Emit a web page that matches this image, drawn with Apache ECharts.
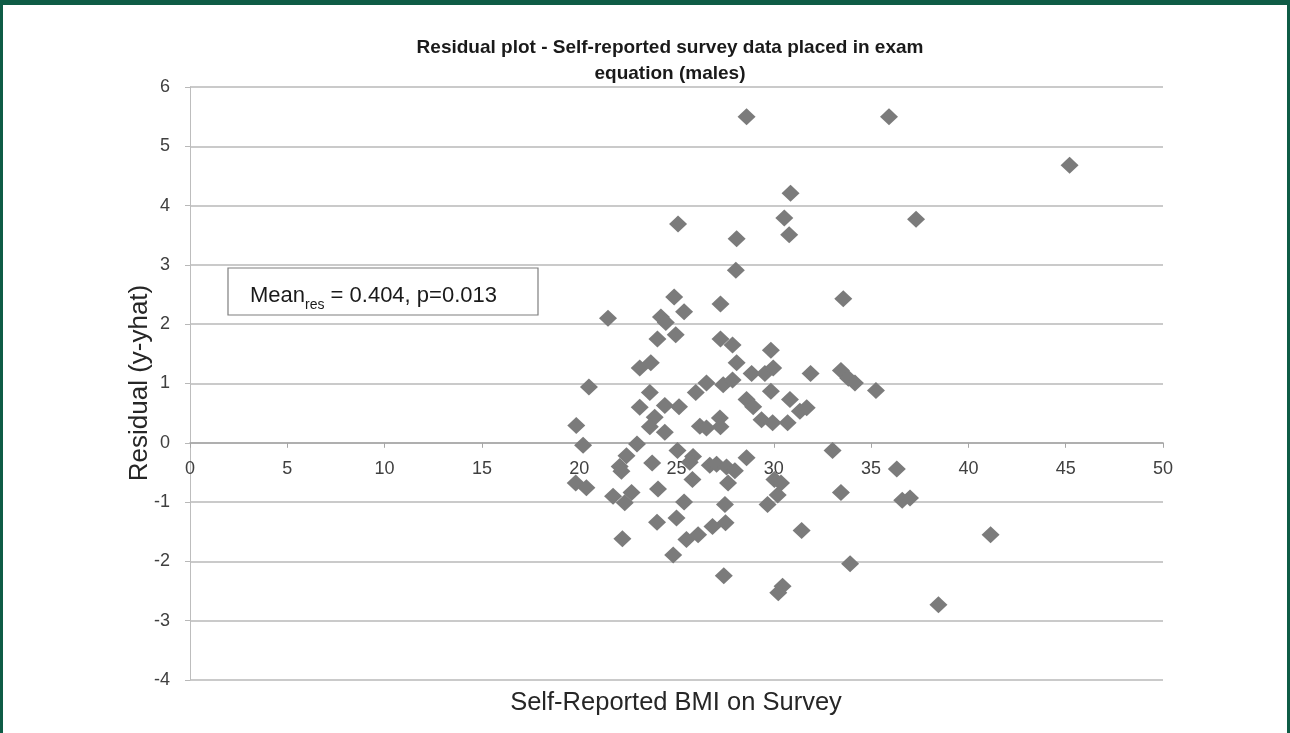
<!DOCTYPE html>
<html>
<head>
<meta charset="utf-8">
<script src="https://cdn.jsdelivr.net/npm/echarts@6/dist/echarts.min.js"></script>
<style>
  html, body { margin: 0; padding: 0; background: #fff; }
  #chart { width: 1290px; height: 733px; }
</style>
</head>
<body>
<div id="chart"></div>
<script>
// values: self-reported BMI (x) and residual (y)
var bmi = [
  28.6, 35.92, 45.2, 30.86, 25.08, 30.54, 37.31, 28.09, 30.79, 28.05,
  24.88, 33.57, 27.26, 21.48, 24.2, 24.45, 25.39, 24.96, 24.02, 27.26,
  27.88, 29.85, 28.09, 23.11, 23.68, 28.86, 29.54, 29.97, 31.89, 33.45,
  33.83, 34.17, 35.25, 26.54, 27.4, 27.88, 20.5, 23.63, 25.99, 29.85,
  28.6, 30.83, 23.11, 24.4, 25.13, 28.94, 31.34, 31.69, 23.88, 27.23,
  29.37, 29.94, 30.71, 19.85, 23.63, 26.2, 26.54, 27.26, 24.4, 22.97,
  20.2, 25.05, 33.02, 25.85, 22.43, 28.6, 22.08, 23.75, 25.68, 26.71,
  27.06, 27.57, 28.0, 36.32, 22.17, 19.82, 20.37, 24.05, 25.82, 27.65,
  30.03, 30.37, 30.2, 29.68, 33.45, 21.74, 22.69, 22.34, 25.39, 27.49,
  36.6, 37.0, 24.0, 25.0, 26.85, 27.52, 31.43, 22.22, 25.51, 26.11,
  24.83, 33.92, 27.43, 30.45, 30.23, 38.46, 41.14
];
var residual = [
  5.5, 5.5, 4.68, 4.21, 3.69, 3.79, 3.77, 3.44, 3.51, 2.91,
  2.46, 2.43, 2.34, 2.1, 2.12, 2.03, 2.21, 1.82, 1.75, 1.75,
  1.65, 1.56, 1.35, 1.26, 1.35, 1.17, 1.17, 1.26, 1.17, 1.22,
  1.09, 1.01, 0.88, 1.01, 0.98, 1.06, 0.94, 0.85, 0.85, 0.87,
  0.73, 0.73, 0.6, 0.63, 0.61, 0.61, 0.53, 0.59, 0.43, 0.42,
  0.39, 0.34, 0.34, 0.29, 0.27, 0.28, 0.25, 0.27, 0.18, -0.02,
  -0.04, -0.13, -0.13, -0.23, -0.22, -0.25, -0.4, -0.34, -0.33, -0.38,
  -0.36, -0.41, -0.47, -0.44, -0.48, -0.68, -0.76, -0.78, -0.62, -0.68,
  -0.62, -0.68, -0.88, -1.04, -0.84, -0.9, -0.84, -1.01, -1.0, -1.04,
  -0.97, -0.93, -1.34, -1.27, -1.41, -1.35, -1.48, -1.62, -1.63, -1.55,
  -1.89, -2.04, -2.24, -2.42, -2.53, -2.73, -1.55
];
var titleLines = ['Residual plot - Self-reported survey data placed in exam', 'equation (males)'];
var xName = 'Self-Reported BMI on Survey';
var yName = 'Residual (y-yhat)';
var yMin = -4, yMax = 6;

var points = bmi.map(function (v, i) { return [v, residual[i]]; });

var chart = echarts.init(document.getElementById('chart'));
var gridColor = '#b8b8b8';
var labelFont = "'Liberation Sans', 'Noto Sans', sans-serif";

var gridTop = 87, gridBottom = 53;
var plotHeight = 733 - gridTop - gridBottom;
// x axis sits on the zero line, labels included
var xOffset = -plotHeight * (0 - yMin) / (yMax - yMin);

var option = {
  backgroundColor: '#ffffff',
  animation: false,
  title: {
    text: titleLines.join('\n'),
    left: 665,
    top: 30,
    textAlign: 'center',
    textStyle: {
      fontFamily: "'Liberation Sans Narrow', 'Liberation Sans', sans-serif",
      fontWeight: 'bold',
      fontSize: 19,
      lineHeight: 26,
      color: '#1a1a1a'
    }
  },
  grid: {
    left: 190,
    right: 127,
    top: gridTop,
    bottom: gridBottom
  },
  xAxis: {
    type: 'value',
    min: 0,
    max: 50,
    interval: 5,
    offset: xOffset,
    axisLine: { onZero: false, lineStyle: { color: '#a6a6a6', width: 1.5 } },
    axisTick: { show: true, length: 5, lineStyle: { color: '#a6a6a6' } },
    axisLabel: { fontFamily: labelFont, fontSize: 18, color: '#404040', margin: 17 },
    splitLine: { show: false }
  },
  yAxis: {
    type: 'value',
    min: yMin,
    max: yMax,
    interval: 1,
    axisLine: { show: true, lineStyle: { color: '#bdbdbd', width: 1 } },
    axisTick: { show: true, length: 5, lineStyle: { color: gridColor } },
    axisLabel: { fontFamily: labelFont, fontSize: 18, color: '#404040', margin: 20 },
    splitLine: { show: true, lineStyle: { color: gridColor, width: 1.5 } }
  },
  graphic: [
    // green frame around the figure
    { type: 'rect', shape: { x: 0, y: 0, width: 1290, height: 5 }, style: { fill: '#0f5c46' } },
    { type: 'rect', shape: { x: 0, y: 0, width: 3, height: 733 }, style: { fill: '#0f5c46' } },
    { type: 'rect', shape: { x: 1287, y: 0, width: 3, height: 733 }, style: { fill: '#0f5c46' } },
    {
      type: 'text',
      x: 140,
      y: 383,
      rotation: Math.PI / 2,
      style: {
        text: yName,
        font: "26px 'Liberation Sans', 'Noto Sans', sans-serif",
        fill: '#262626',
        align: 'center',
        verticalAlign: 'middle'
      }
    },
    {
      type: 'text',
      x: 676,
      y: 703,
      style: {
        text: xName,
        font: "25.5px 'Liberation Sans', 'Noto Sans', sans-serif",
        fill: '#262626',
        align: 'center',
        verticalAlign: 'middle'
      }
    },
    {
      type: 'rect',
      shape: { x: 228, y: 268, width: 310, height: 47 },
      style: { fill: '#ffffff', stroke: '#7f7f7f', lineWidth: 1.2 },
      z: 10
    },
    {
      type: 'text',
      x: 250,
      y: 294,
      z: 11,
      style: {
        text: '{m|Mean}{s|res}{m| = 0.404, p=0.013}',
        verticalAlign: 'middle',
        rich: {
          m: { fontFamily: "'Liberation Sans', sans-serif", fontSize: 22, fill: '#1a1a1a', verticalAlign: 'bottom', lineHeight: 26 },
          s: { fontFamily: "'Liberation Sans', sans-serif", fontSize: 14, fill: '#1a1a1a', verticalAlign: 'bottom', padding: [0, 0, -5, 0], lineHeight: 26 }
        }
      }
    }
  ],
  series: [
    {
      type: 'scatter',
      data: points,
      symbol: 'diamond',
      symbolSize: [18, 17],
      itemStyle: { color: '#7b7b7b', opacity: 1 },
      z: 5
    }
  ]
};

chart.setOption(option);
</script>
</body>
</html>
